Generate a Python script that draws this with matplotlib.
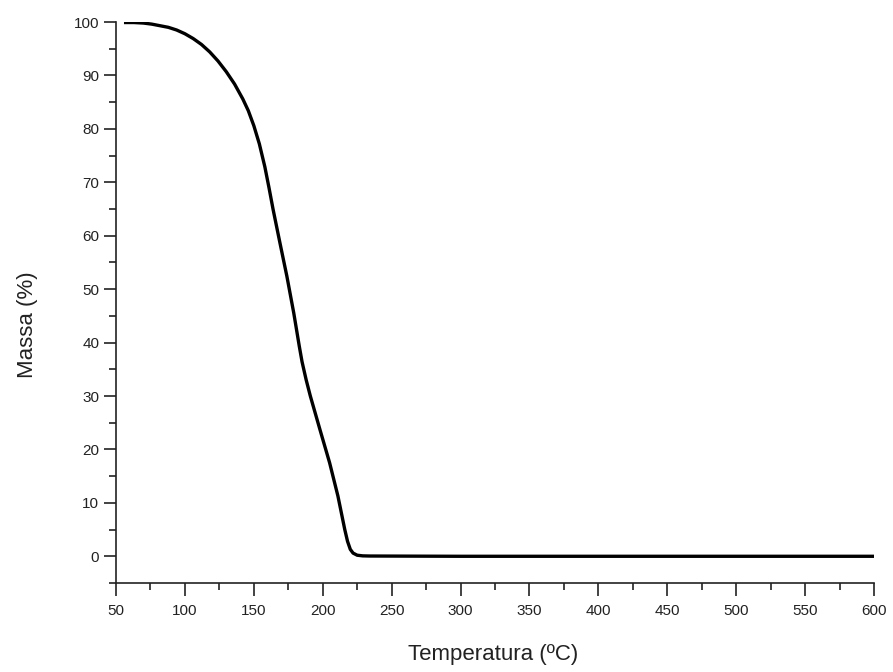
import numpy as np
import matplotlib.pyplot as plt
from matplotlib.ticker import MultipleLocator

# TGA curve
temperatura = [57, 63, 70, 76, 82, 88, 94, 100, 106, 112, 118, 124, 130, 136, 142,
               146, 150, 154, 158, 161, 164, 169, 174, 179, 183, 185, 188, 191,
               198, 205, 211, 216, 218, 220, 222, 225, 229, 234, 300, 400, 500, 600]
massa = [99.9, 99.9, 99.8, 99.6, 99.3, 99.0, 98.5, 97.8, 96.9, 95.8, 94.4, 92.7,
         90.7, 88.4, 85.6, 83.4, 80.6, 77.2, 72.9, 69.0, 64.9, 58.6, 52.4, 45.5,
         39.3, 36.4, 33.0, 30.0, 23.7, 17.5, 11.3, 5.0, 2.8, 1.3, 0.6, 0.2, 0.08,
         0.05, 0.0, 0.0, 0.0, 0.0]

plt.rcParams['font.family'] = ['Liberation Sans', 'DejaVu Sans']

fig = plt.figure(figsize=(8.93, 6.72), dpi=100)
ax = fig.add_axes([116 / 893, 1 - 583 / 672, 758 / 893, 561 / 672])

ax.plot(temperatura, massa, color='black', lw=2.4, solid_joinstyle='round')

ax.set_xlim(50, 600)
ax.set_ylim(-5, 100)
ax.xaxis.set_major_locator(MultipleLocator(50))
ax.xaxis.set_minor_locator(MultipleLocator(25))
ax.yaxis.set_major_locator(MultipleLocator(10))
ax.yaxis.set_minor_locator(MultipleLocator(5))

ax.spines['top'].set_visible(False)
ax.spines['right'].set_visible(False)
for s in ['left', 'bottom']:
    ax.spines[s].set_linewidth(1.2)
    ax.spines[s].set_color('#222222')

ax.tick_params(which='major', direction='out', length=9, width=1.2, colors='#222222',
               labelsize=11)
ax.tick_params(which='minor', direction='out', length=5, width=1.2, colors='#222222')
ax.tick_params(axis='x', which='major', pad=6)
ax.tick_params(axis='y', which='major', pad=3)

ax.set_xlabel('Temperatura (ºC)', fontsize=16, color='#222222')
ax.set_ylabel('Massa (%)', fontsize=16, color='#222222')
ax.xaxis.set_label_coords(0.497, -0.128)
ax.yaxis.set_label_coords(-0.117, 0.46)
ax.xaxis.label.set_va('center')
ax.yaxis.label.set_va('center')

fig.savefig('out.png', dpi=100)
